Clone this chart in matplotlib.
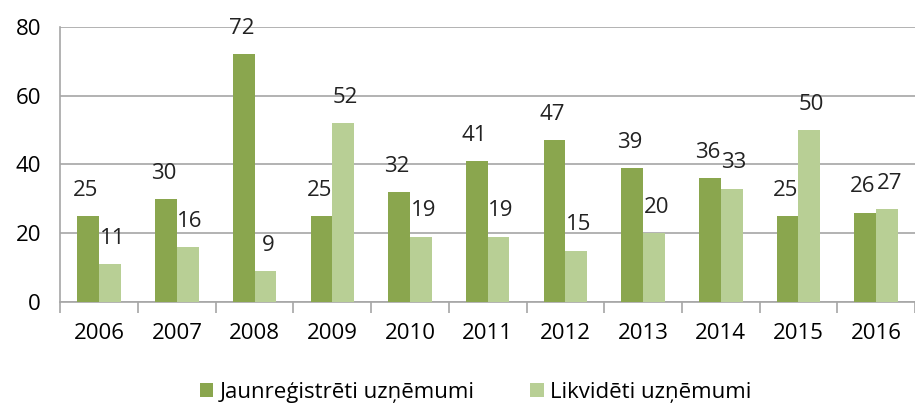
import matplotlib
matplotlib.use("Agg")
import matplotlib.pyplot as plt
import numpy as np

years = ["2006", "2007", "2008", "2009", "2010", "2011", "2012", "2013", "2014", "2015", "2016"]
registered = [25, 30, 72, 25, 32, 41, 47, 39, 36, 25, 26]
liquidated = [11, 16, 9, 52, 19, 19, 15, 20, 33, 50, 27]

dark = "#8aa64e"
light = "#b8cf95"
grid_c = "#a6a6a6"

plt.rcParams['font.family'] = ['Open Sans', 'DejaVu Sans']

fig = plt.figure(figsize=(9.15, 4.03), dpi=100)
ax = fig.add_axes([0.066, 0.25, 0.934, 0.684])

x = np.arange(len(years))
w = 0.28
b1 = ax.bar(x - w / 2, registered, w, color=dark, label="Jaunreģistrēti uzņēmumi", zorder=3)
b2 = ax.bar(x + w / 2, liquidated, w, color=light, label="Likvidēti uzņēmumi", zorder=3)

for rect, v in zip(b1, registered):
    ax.text(rect.get_x() + rect.get_width() / 2 - 0.03, v + 7.5, str(v), ha="center", va="center",
            fontsize=16, color="#222222")
for rect, v in zip(b2, liquidated):
    ax.text(rect.get_x() + rect.get_width() / 2 + 0.03, v + 7.5, str(v), ha="center", va="center",
            fontsize=16, color="#222222")

ax.set_xlim(-0.5, len(years) - 0.5)
ax.set_ylim(0, 80)
ax.set_yticks([0, 20, 40, 60, 80])
ax.yaxis.grid(True, color=grid_c, linewidth=1.2, zorder=0)
ax.set_xticks(x)
ax.set_xticklabels(years)
ax.set_xticks(np.arange(-0.5, len(years)), minor=True)
ax.tick_params(axis="x", which="major", length=0, pad=15, labelsize=16)
ax.tick_params(axis="x", which="minor", length=8, color=grid_c, width=1.2)
ax.tick_params(axis="y", length=0, pad=14, labelsize=16)

for s in ["top", "right"]:
    ax.spines[s].set_visible(False)
ax.spines["left"].set_color(grid_c)
ax.spines["bottom"].set_color(grid_c)
ax.spines["left"].set_linewidth(1.2)
ax.spines["bottom"].set_linewidth(1.2)

fig.legend(loc="lower center", bbox_to_anchor=(0.52, -0.05), ncol=2, frameon=False,
           fontsize=16, handlelength=0.6, handleheight=0.6, handletextpad=0.3, columnspacing=2.5)

fig.savefig("out.png", dpi=100)
